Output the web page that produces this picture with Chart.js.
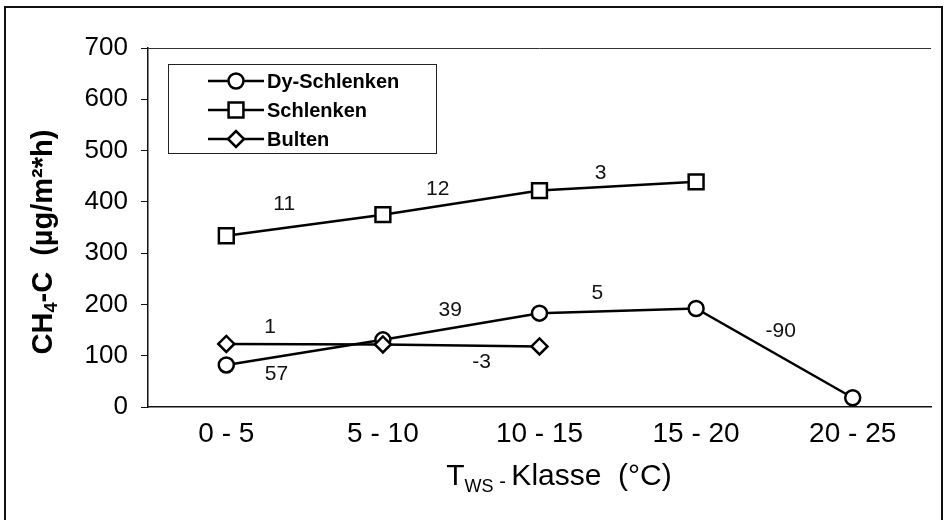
<!DOCTYPE html>
<html>
<head>
<meta charset="utf-8">
<script src="https://cdn.jsdelivr.net/npm/chart.js@4.4.1/dist/chart.umd.min.js"></script>
<style>
  html, body { margin: 0; padding: 0; background: #fff; }
</style>
</head>
<body>
<canvas id="fluxChart" width="944" height="520"></canvas>
<script>
// Temperature classes and mean CH4-C flux per site type
var classes = ['0 - 5', '5 - 10', '10 - 15', '15 - 20', '20 - 25'];
var dySchlenken = [82, 131, 183, 192, 18];
var schlenken = [334, 375, 422, 439, null];
var bulten = [123, 122, 118, null, null];
var yTicks = [0, 100, 200, 300, 400, 500, 600, 700];

// change labels written between neighbouring classes
var schlenkenSteps = ['11', '12', '3'];
var dySteps = ['57', '39', '5', '-90'];
var bultenSteps = ['1', '-3'];

// where each step label sits: [class index, flux value]
var schlenkenStepAt = [[0.37, 395], [1.35, 425], [2.39, 455]];
var dyStepAt = [[0.32, 63], [1.43, 188], [2.37, 222], [3.54, 147]];
var bultenStepAt = [[0.28, 156], [1.63, 88]];

var FONT = '"Liberation Sans", Arial, sans-serif';

var stepLabels = {
  id: 'stepLabels',
  afterDatasetsDraw: function (chart) {
    var ctx = chart.ctx, xs = chart.scales.x, ys = chart.scales.y;
    var groups = [[schlenkenSteps, schlenkenStepAt], [dySteps, dyStepAt], [bultenSteps, bultenStepAt]];
    ctx.save();
    ctx.fillStyle = '#111';
    ctx.font = '21px ' + FONT;
    ctx.textAlign = 'center';
    ctx.textBaseline = 'middle';
    groups.forEach(function (g) {
      g[0].forEach(function (txt, i) {
        var pos = g[1][i];
        var i0 = Math.floor(pos[0]);
        var x = xs.getPixelForValue(i0) + (pos[0] - i0) * (xs.getPixelForValue(i0 + 1) - xs.getPixelForValue(i0));
        ctx.fillText(txt, x, ys.getPixelForValue(pos[1]));
      });
    });
    ctx.restore();
  }
};

var frame = {
  id: 'frame',
  afterDraw: function (chart) {
    var ctx = chart.ctx, a = chart.chartArea;
    ctx.save();
    // outer frame
    ctx.strokeStyle = '#111';
    ctx.lineWidth = 2;
    ctx.strokeRect(5, 7, 937, 530);
    // plot area top edge
    ctx.lineWidth = 1;
    ctx.strokeStyle = '#333';
    ctx.beginPath();
    ctx.moveTo(a.left, a.top + 0.5);
    ctx.lineTo(a.right, a.top + 0.5);
    ctx.stroke();

    // legend box
    ctx.strokeStyle = '#222';
    ctx.strokeRect(168.5, 64.5, 268, 89);
    ctx.font = 'bold 20px ' + FONT;
    ctx.textBaseline = 'middle';
    ctx.textAlign = 'left';
    chart.data.datasets.forEach(function (ds, i) {
      var y = 81 + i * 29;
      ctx.strokeStyle = '#000';
      ctx.lineWidth = 2.5;
      ctx.beginPath();
      ctx.moveTo(208, y);
      ctx.lineTo(264, y);
      ctx.stroke();
      ctx.fillStyle = '#fff';
      Chart.helpers.drawPoint(ctx, {
        pointStyle: ds.pointStyle, radius: ds.pointRadius, rotation: 0, borderWidth: 2.5
      }, 236, y);
      ctx.fillStyle = '#000';
      ctx.fillText(ds.label, 267, y + 1);
    });

    // y axis title with subscript
    ctx.save();
    ctx.translate(44, 242);
    ctx.rotate(-Math.PI / 2);
    var big = 'bold 29px ' + FONT, small = 'bold 18px ' + FONT;
    var parts = [['CH', big, 0], ['4', small, 8], ['-C  (µg/m²*h)', big, 0]];
    var total = 0;
    parts.forEach(function (p) { ctx.font = p[1]; total += ctx.measureText(p[0]).width; });
    var x = -total / 2;
    ctx.fillStyle = '#000';
    ctx.textBaseline = 'middle';
    parts.forEach(function (p) {
      ctx.font = p[1];
      ctx.fillText(p[0], x, p[2]);
      x += ctx.measureText(p[0]).width;
    });
    ctx.restore();

    // x axis title with subscript
    var xParts = [['T', '30px ' + FONT, 0], ['WS', '18px ' + FONT, 7], [' - ', '20px ' + FONT, 3], ['Klasse  (°C)', '30px ' + FONT, 0]];
    var xTotal = 0;
    xParts.forEach(function (p) { ctx.font = p[1]; xTotal += ctx.measureText(p[0]).width; });
    var xx = 559 - xTotal / 2;
    ctx.textBaseline = 'alphabetic';
    ctx.fillStyle = '#000';
    xParts.forEach(function (p) {
      ctx.font = p[1];
      ctx.fillText(p[0], xx, 485 + p[2]);
      xx += ctx.measureText(p[0]).width;
    });
    ctx.restore();
  }
};

var lineStyle = {
  borderColor: '#000',
  borderWidth: 2.5,
  backgroundColor: '#fff',
  pointBackgroundColor: '#fff',
  pointBorderColor: '#000',
  pointBorderWidth: 2.5,
  tension: 0,
  fill: false
};

var ctx = document.getElementById('fluxChart').getContext('2d');
var fluxChart = new Chart(ctx, {
  type: 'line',
  data: {
    labels: classes,
    datasets: [
      Object.assign({ label: 'Dy-Schlenken', data: dySchlenken, pointStyle: 'circle', pointRadius: 7.5, order: 2 }, lineStyle),
      Object.assign({ label: 'Schlenken', data: schlenken, pointStyle: 'rect', pointRadius: 10.5, order: 1 }, lineStyle),
      Object.assign({ label: 'Bulten', data: bulten, pointStyle: 'rectRot', pointRadius: 8, order: 0 }, lineStyle)
    ]
  },
  options: {
    responsive: false,
    animation: false,
    devicePixelRatio: 1,
    layout: { padding: { top: 48, right: 3, left: 0, bottom: 0 } },
    plugins: {
      colors: { enabled: false },
      legend: { display: false },
      tooltip: { enabled: false }
    },
    scales: {
      x: {
        offset: true,
        grid: { display: false, drawTicks: false },
        border: { color: '#111', width: 1.5 },
        ticks: { color: '#000', font: { family: FONT, size: 28 }, padding: 10, maxRotation: 0 },
        afterFit: function (s) { s.height = 113; }
      },
      y: {
        min: 0,
        max: 700,
        afterBuildTicks: function (s) { s.ticks = yTicks.map(function (v) { return { value: v }; }); },
        grid: { drawOnChartArea: false, drawTicks: true, tickLength: 7, color: '#111', lineWidth: 1 },
        border: { color: '#111', width: 1.5 },
        ticks: { color: '#000', font: { family: FONT, size: 26 }, padding: 13 },
        afterFit: function (s) { s.width = 148; }
      }
    }
  },
  plugins: [stepLabels, frame]
});
</script>
</body>
</html>
